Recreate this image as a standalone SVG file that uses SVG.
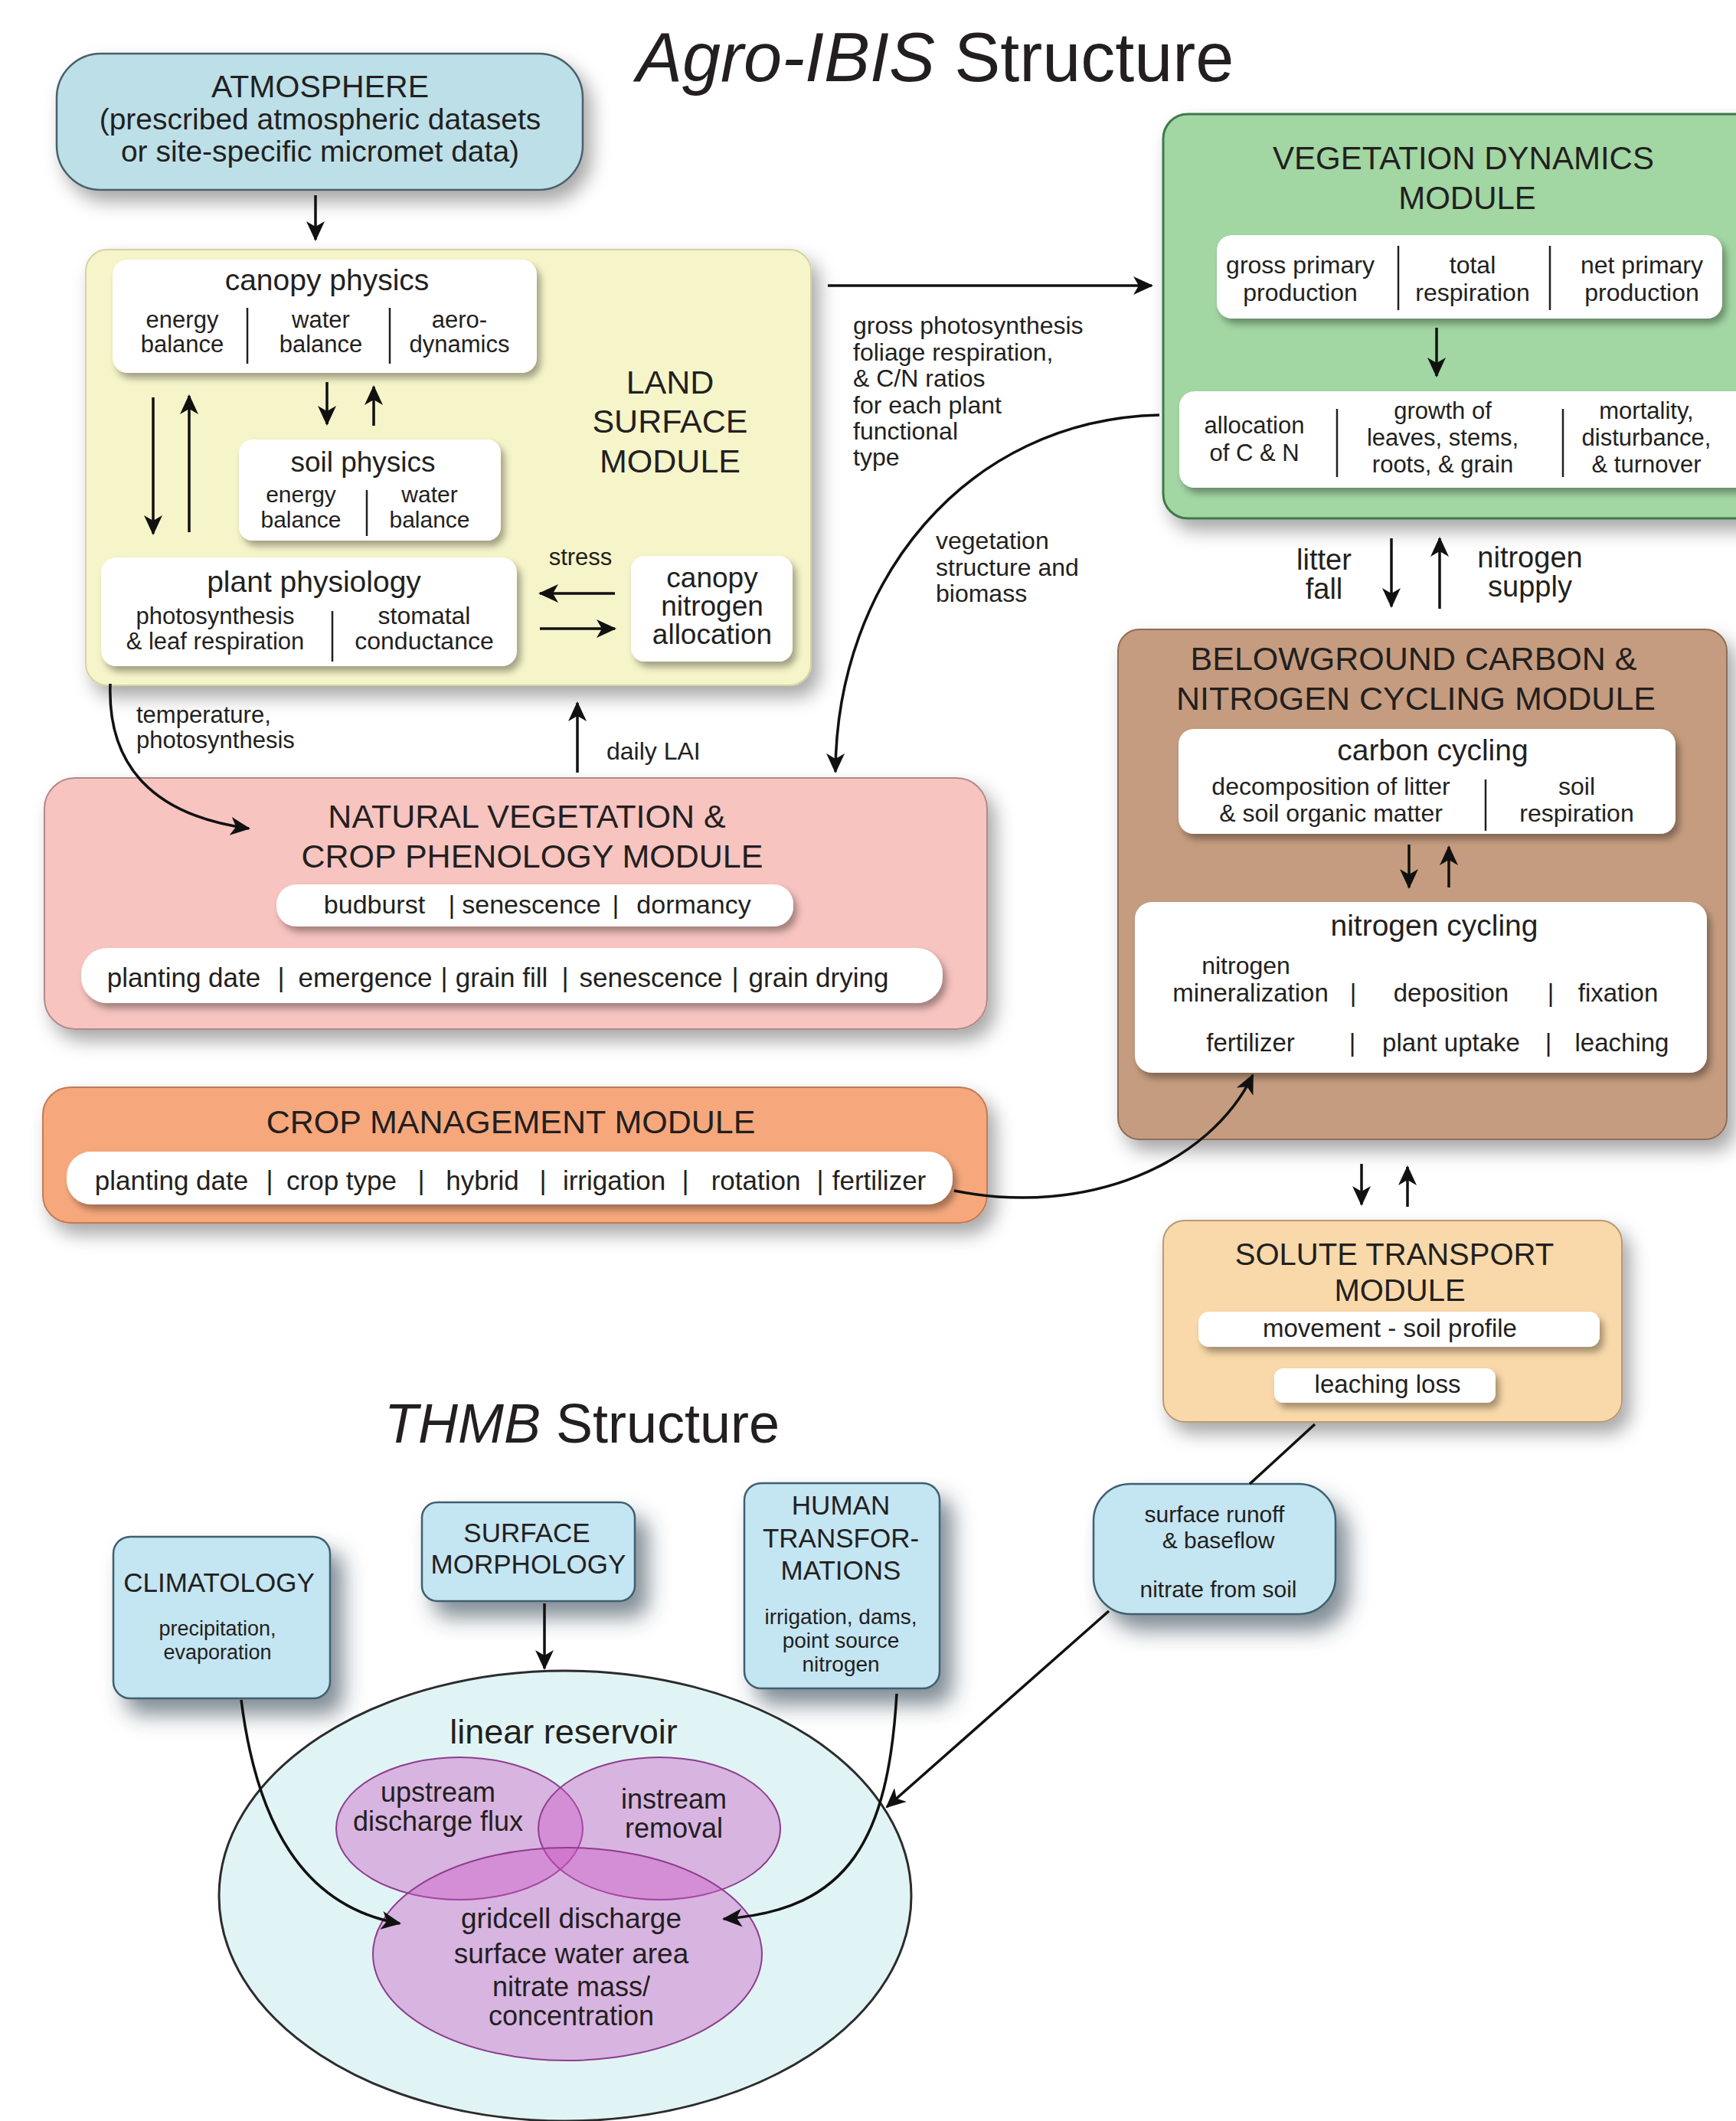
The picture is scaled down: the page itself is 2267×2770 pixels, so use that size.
<svg xmlns="http://www.w3.org/2000/svg" width="2267" height="2770" viewBox="0 0 2267 2770">
<defs>
<style>
text{font-family:"Liberation Sans",Arial,sans-serif;fill:#231f20}
.m{text-anchor:middle}
.h{font-size:43px}
.s31{font-size:31px}
.s32{font-size:32px}
.s33{font-size:33px}
.s34{font-size:34px}
.s35{font-size:35px}
.s39{font-size:39px}
.wb{fill:#fff}
.div{stroke:#231f20;stroke-width:2.5}
.c{fill:none;stroke:#111;stroke-width:3.5}
.ca{fill:none;stroke:#111;stroke-width:3.5;marker-end:url(#ah)}
</style>
<filter id="sh" x="-10%" y="-10%" width="130%" height="140%"><feDropShadow dx="10" dy="14" stdDeviation="12" flood-color="#000" flood-opacity="0.35"/></filter>
<filter id="shs" x="-10%" y="-20%" width="125%" height="160%"><feDropShadow dx="5" dy="7" stdDeviation="5" flood-color="#000" flood-opacity="0.35"/></filter>
<filter id="shb" x="-20%" y="-20%" width="150%" height="160%"><feDropShadow dx="16" dy="20" stdDeviation="14" flood-color="#2a4050" flood-opacity="0.6"/></filter>
<marker id="ah" viewBox="0 0 26 26" markerWidth="26" markerHeight="26" refX="24" refY="13" orient="auto" markerUnits="userSpaceOnUse"><path d="M0,1 L26,13 L0,25 L7,13 z" fill="#111"/></marker>
</defs>
<rect width="2267" height="2770" fill="#fff"/>

<text x="831" y="106" font-size="90"><tspan font-style="italic">Agro-IBIS</tspan> Structure</text>

<g id="atmosphere">
<rect x="74" y="70" width="687" height="178" rx="58" fill="#bcdfe8" stroke="#4b5f6a" stroke-width="2.5" filter="url(#sh)"/>
<text class="m" x="418" y="127" font-size="41">ATMOSPHERE</text>
<text class="m" x="418" y="169" font-size="39">(prescribed atmospheric datasets</text>
<text class="m" x="418" y="211" font-size="39">or site-specific micromet data)</text>
</g>

<g id="land-surface">
<rect x="112" y="326" width="947" height="569" rx="28" fill="#f6f4c9" stroke="#d6d3a3" stroke-width="2" filter="url(#sh)"/>
<text class="m h" x="875" y="514">LAND</text>
<text class="m h" x="875" y="565">SURFACE</text>
<text class="m h" x="875" y="617">MODULE</text>
</g>
<g id="canopy-physics">
<rect class="wb" x="147" y="339" width="554" height="148" rx="20" filter="url(#shs)"/>
<text class="m s39" x="427" y="379">canopy physics</text>
<text class="m s31" x="238" y="428">energy</text><text class="m s31" x="238" y="460">balance</text>
<text class="m s31" x="419" y="428">water</text><text class="m s31" x="419" y="460">balance</text>
<text class="m s31" x="600" y="428">aero-</text><text class="m s31" x="600" y="460">dynamics</text>
<line class="div" x1="323" y1="402" x2="323" y2="475"/><line class="div" x1="509" y1="402" x2="509" y2="475"/>
</g>
<g id="soil-physics">
<rect class="wb" x="312" y="574" width="342" height="132" rx="18" filter="url(#shs)"/>
<text class="m" x="474" y="616" font-size="37">soil physics</text>
<text class="m" x="393" y="656" font-size="30">energy</text><text class="m" x="393" y="689" font-size="30">balance</text>
<text class="m" x="561" y="656" font-size="30">water</text><text class="m" x="561" y="689" font-size="30">balance</text>
<line class="div" x1="479" y1="640" x2="479" y2="700"/>
</g>
<g id="plant-physiology">
<rect class="wb" x="132" y="728" width="543" height="142" rx="20" filter="url(#shs)"/>
<text class="m" x="410" y="773" font-size="39">plant physiology</text>
<text class="m s31" x="281" y="815">photosynthesis</text><text class="m s31" x="281" y="848">&amp; leaf respiration</text>
<text class="m s32" x="554" y="815">stomatal</text><text class="m s32" x="554" y="848">conductance</text>
<line class="div" x1="434" y1="798" x2="434" y2="864"/>
</g>
<g id="canopy-nitrogen">
<rect class="wb" x="824" y="726" width="211" height="138" rx="18" filter="url(#shs)"/>
<text class="m" x="930" y="767" font-size="37">canopy</text>
<text class="m" x="930" y="804" font-size="37">nitrogen</text>
<text class="m" x="930" y="841" font-size="37">allocation</text>
</g>

<g id="vegetation-dynamics">
<rect x="1519" y="149" width="790" height="528" rx="32" fill="#a2d6a3" stroke="#3c7a4c" stroke-width="3" filter="url(#sh)"/>
<text class="m" x="1911" y="221" font-size="42">VEGETATION DYNAMICS</text>
<text class="m" x="1916" y="273" font-size="42">MODULE</text>
<rect class="wb" x="1589" y="307" width="660" height="109" rx="20" filter="url(#shs)"/>
<text class="m s32" x="1698" y="357">gross primary</text><text class="m s32" x="1698" y="393">production</text>
<text class="m s32" x="1923" y="357">total</text><text class="m s32" x="1923" y="393">respiration</text>
<text class="m s32" x="2144" y="357">net primary</text><text class="m s32" x="2144" y="393">production</text>
<line class="div" x1="1826" y1="321" x2="1826" y2="405"/><line class="div" x1="2024" y1="321" x2="2024" y2="405"/>
<rect class="wb" x="1540" y="511" width="760" height="126" rx="20" filter="url(#shs)"/>
<text class="m s31" x="1638" y="566">allocation</text><text class="m s31" x="1638" y="602">of C &amp; N</text>
<text class="m s31" x="1884" y="547">growth of</text><text class="m s31" x="1884" y="582">leaves, stems,</text><text class="m s31" x="1884" y="617">roots, &amp; grain</text>
<text class="m s31" x="2150" y="547">mortality,</text><text class="m s31" x="2150" y="582">disturbance,</text><text class="m s31" x="2150" y="617">&amp; turnover</text>
<line class="div" x1="1746" y1="534" x2="1746" y2="623"/><line class="div" x1="2041" y1="534" x2="2041" y2="623"/>
</g>

<g id="belowground">
<rect x="1460" y="822" width="795" height="666" rx="28" fill="#c59c7f" stroke="#8f6d58" stroke-width="2" filter="url(#sh)"/>
<text class="m h" x="1846" y="875">BELOWGROUND CARBON &amp;</text>
<text class="m h" x="1849" y="927">NITROGEN CYCLING MODULE</text>
<rect class="wb" x="1539" y="952" width="649" height="137" rx="20" filter="url(#shs)"/>
<text class="m s39" x="1871" y="993">carbon cycling</text>
<text class="m s32" x="1738" y="1038">decomposition of litter</text><text class="m s32" x="1738" y="1073">&amp; soil organic matter</text>
<text class="m s32" x="2059" y="1038">soil</text><text class="m s32" x="2059" y="1073">respiration</text>
<line class="div" x1="1940" y1="1018" x2="1940" y2="1085"/>
<rect class="wb" x="1482" y="1178" width="747" height="223" rx="22" filter="url(#shs)"/>
<text class="m s39" x="1873" y="1222">nitrogen cycling</text>
<text class="m s32" x="1627" y="1272">nitrogen</text>
<text class="m s33" x="1633" y="1308">mineralization</text><text class="m s33" x="1767" y="1308">|</text>
<text class="m s33" x="1895" y="1308">deposition</text><text class="m s33" x="2025" y="1308">|</text>
<text class="m s33" x="2113" y="1308">fixation</text>
<text class="m s33" x="1633" y="1373">fertilizer</text><text class="m s33" x="1766" y="1373">|</text>
<text class="m s33" x="1895" y="1373">plant uptake</text><text class="m s33" x="2022" y="1373">|</text>
<text class="m s33" x="2118" y="1373">leaching</text>
</g>

<g id="solute-transport">
<rect x="1519" y="1594" width="599" height="263" rx="28" fill="#f9d9a9" stroke="#b89a78" stroke-width="2" filter="url(#sh)"/>
<text class="m" x="1821" y="1652" font-size="40">SOLUTE TRANSPORT</text>
<text class="m" x="1828" y="1699" font-size="40">MODULE</text>
<rect class="wb" x="1565" y="1713" width="524" height="46" rx="14" filter="url(#shs)"/>
<text class="m s33" x="1815" y="1746">movement - soil profile</text>
<rect class="wb" x="1664" y="1787" width="289" height="45" rx="12" filter="url(#shs)"/>
<text class="m s33" x="1812" y="1819">leaching loss</text>
</g>

<g id="natural-vegetation">
<rect x="58" y="1016" width="1231" height="328" rx="40" fill="#f7c4c0" stroke="#b28a89" stroke-width="2" filter="url(#sh)"/>
<text class="m h" x="688" y="1081">NATURAL VEGETATION &amp;</text>
<text class="m h" x="695" y="1133">CROP PHENOLOGY MODULE</text>
<rect class="wb" x="361" y="1155" width="675" height="55" rx="26" filter="url(#shs)"/>
<text class="m s34" x="489" y="1193">budburst</text><text class="m s34" x="590" y="1193">|</text>
<text class="m s34" x="694" y="1193">senescence</text><text class="m s34" x="804" y="1193">|</text>
<text class="m s34" x="906" y="1193">dormancy</text>
<rect class="wb" x="106" y="1238" width="1125" height="72" rx="34" filter="url(#shs)"/>
<text class="m s35" x="240" y="1289">planting date</text><text class="m s35" x="367" y="1289">|</text>
<text class="m s35" x="477" y="1289">emergence</text><text class="m s35" x="580" y="1289">|</text>
<text class="m s35" x="655" y="1289">grain fill</text><text class="m s35" x="738" y="1289">|</text>
<text class="m s35" x="850" y="1289">senescence</text><text class="m s35" x="960" y="1289">|</text>
<text class="m s35" x="1069" y="1289">grain drying</text>
</g>

<g id="crop-management">
<rect x="56" y="1420" width="1233" height="177" rx="36" fill="#f6a87c" stroke="#c27a55" stroke-width="2" filter="url(#sh)"/>
<text class="m h" x="667" y="1480">CROP MANAGEMENT MODULE</text>
<rect class="wb" x="87" y="1504" width="1157" height="69" rx="32" filter="url(#shs)"/>
<text class="m s35" x="224" y="1554">planting date</text><text class="m s35" x="352" y="1554">|</text>
<text class="m s35" x="446" y="1554">crop type</text><text class="m s35" x="550" y="1554">|</text>
<text class="m s35" x="630" y="1554">hybrid</text><text class="m s35" x="709" y="1554">|</text>
<text class="m s35" x="802" y="1554">irrigation</text><text class="m s35" x="895" y="1554">|</text>
<text class="m s35" x="987" y="1554">rotation</text><text class="m s35" x="1071" y="1554">|</text>
<text class="m s35" x="1148" y="1554">fertilizer</text>
</g>

<text x="502" y="1884" font-size="72"><tspan font-style="italic">THMB</tspan> Structure</text>

<g id="climatology">
<rect x="148" y="2007" width="283" height="211" rx="22" fill="#c4e5f2" stroke="#3f6070" stroke-width="2.5" filter="url(#shb)"/>
<text class="m s35" x="286" y="2079">CLIMATOLOGY</text>
<text class="m" x="284" y="2136" font-size="27">precipitation,</text>
<text class="m" x="284" y="2167" font-size="27">evaporation</text>
</g>
<g id="surface-morphology">
<rect x="551" y="1962" width="278" height="129" rx="20" fill="#c4e5f2" stroke="#3f6070" stroke-width="2.5" filter="url(#shb)"/>
<text class="m s35" x="688" y="2014">SURFACE</text>
<text class="m s35" x="690" y="2055">MORPHOLOGY</text>
</g>
<g id="human-transformations">
<rect x="972" y="1937" width="255" height="268" rx="22" fill="#c4e5f2" stroke="#3f6070" stroke-width="2.5" filter="url(#shb)"/>
<text class="m s35" x="1098" y="1978">HUMAN</text>
<text class="m s35" x="1098" y="2021">TRANSFOR-</text>
<text class="m s35" x="1098" y="2063">MATIONS</text>
<text class="m" x="1098" y="2121" font-size="28">irrigation, dams,</text>
<text class="m" x="1098" y="2152" font-size="28">point source</text>
<text class="m" x="1098" y="2183" font-size="28">nitrogen</text>
</g>
<g id="surface-runoff">
<rect x="1428" y="1938" width="316" height="170" rx="48" fill="#c4e5f2" stroke="#3f6070" stroke-width="2.5" filter="url(#shb)"/>
<text class="m" x="1586" y="1988" font-size="30">surface runoff</text>
<text class="m" x="1591" y="2022" font-size="30">&amp; baseflow</text>
<text class="m" x="1591" y="2086" font-size="30">nitrate from soil</text>
</g>

<g id="linear-reservoir">
<ellipse cx="738" cy="2476" rx="452" ry="294" fill="#e0f4f5" stroke="#2c2c2c" stroke-width="3"/>
<text class="m" x="736" y="2277" font-size="45">linear reservoir</text>
</g>
<g id="upstream">
<ellipse cx="600" cy="2388" rx="161" ry="93" fill="#cc55c4" fill-opacity="0.4" stroke="#8e3d8c" stroke-width="2"/>
</g>
<g id="instream">
<ellipse cx="861" cy="2388" rx="158" ry="93" fill="#cc55c4" fill-opacity="0.4" stroke="#8e3d8c" stroke-width="2"/>
</g>
<g id="gridcell">
<ellipse cx="741" cy="2552" rx="254" ry="139" fill="#cc55c4" fill-opacity="0.4" stroke="#8e3d8c" stroke-width="2"/>
</g>
<g id="reservoir-labels">
<text class="m" x="572" y="2353" font-size="36">upstream</text>
<text class="m" x="572" y="2391" font-size="36">discharge flux</text>
<text class="m" x="880" y="2362" font-size="36">instream</text>
<text class="m" x="880" y="2400" font-size="36">removal</text>
<text class="m" x="746" y="2518" font-size="37">gridcell discharge</text>
<text class="m" x="746" y="2564" font-size="37">surface water area</text>
<text class="m" x="746" y="2607" font-size="36">nitrate mass/</text>
<text class="m" x="746" y="2645" font-size="36">concentration</text>
</g>

<g id="connector-labels">
<text class="s32" x="1114" y="436">gross photosynthesis</text>
<text class="s32" x="1114" y="471">foliage respiration,</text>
<text class="s32" x="1114" y="505">&amp; C/N ratios</text>
<text class="s32" x="1114" y="540">for each plant</text>
<text class="s32" x="1114" y="574">functional</text>
<text class="s32" x="1114" y="608">type</text>
<text class="s32" x="1222" y="717">vegetation</text>
<text class="s32" x="1222" y="752">structure and</text>
<text class="s32" x="1222" y="786">biomass</text>
<text class="m" x="1729" y="744" font-size="38">litter</text>
<text class="m" x="1729" y="782" font-size="38">fall</text>
<text class="m" x="1998" y="741" font-size="38">nitrogen</text>
<text class="m" x="1998" y="779" font-size="38">supply</text>
<text class="m" x="758" y="738" font-size="31">stress</text>
<text class="s31" x="178" y="944">temperature,</text>
<text class="s31" x="178" y="977">photosynthesis</text>
<text x="792" y="992" font-size="32">daily LAI</text>
</g>

<g id="connectors">
<path class="ca" d="M412,255 L412,313"/>
<path class="ca" d="M427,499 L427,554"/>
<path class="ca" d="M488,556 L488,505"/>
<path class="ca" d="M200,519 L200,697"/>
<path class="ca" d="M247,695 L247,517"/>
<path class="ca" d="M803,775 L705,775"/>
<path class="ca" d="M705,821 L803,821"/>
<path class="ca" d="M1081,373 L1504,373"/>
<path class="ca" d="M1876,428 L1876,491"/>
<path class="ca" d="M1514,542 C1260,548 1092,760 1091,1008"/>
<path class="ca" d="M1817,703 L1817,792"/>
<path class="ca" d="M1880,795 L1880,703"/>
<path class="ca" d="M1840,1103 L1840,1159"/>
<path class="ca" d="M1892,1159 L1892,1106"/>
<path class="ca" d="M1246,1555 C1420,1590 1580,1520 1636,1404"/>
<path class="ca" d="M1778,1520 L1778,1573"/>
<path class="ca" d="M1838,1576 L1838,1524"/>
<path class="c" d="M1717,1860 L1632,1938"/>
<path class="ca" d="M1448,2104 L1158,2360"/>
<path class="ca" d="M144,893 C140,1000 200,1065 325,1082"/>
<path class="ca" d="M754,1009 L754,918"/>
<path class="ca" d="M711,2094 L711,2179"/>
<path class="ca" d="M315,2220 C335,2380 395,2490 522,2512"/>
<path class="ca" d="M1171,2212 C1160,2400 1110,2495 945,2506"/>
</g>
</svg>
